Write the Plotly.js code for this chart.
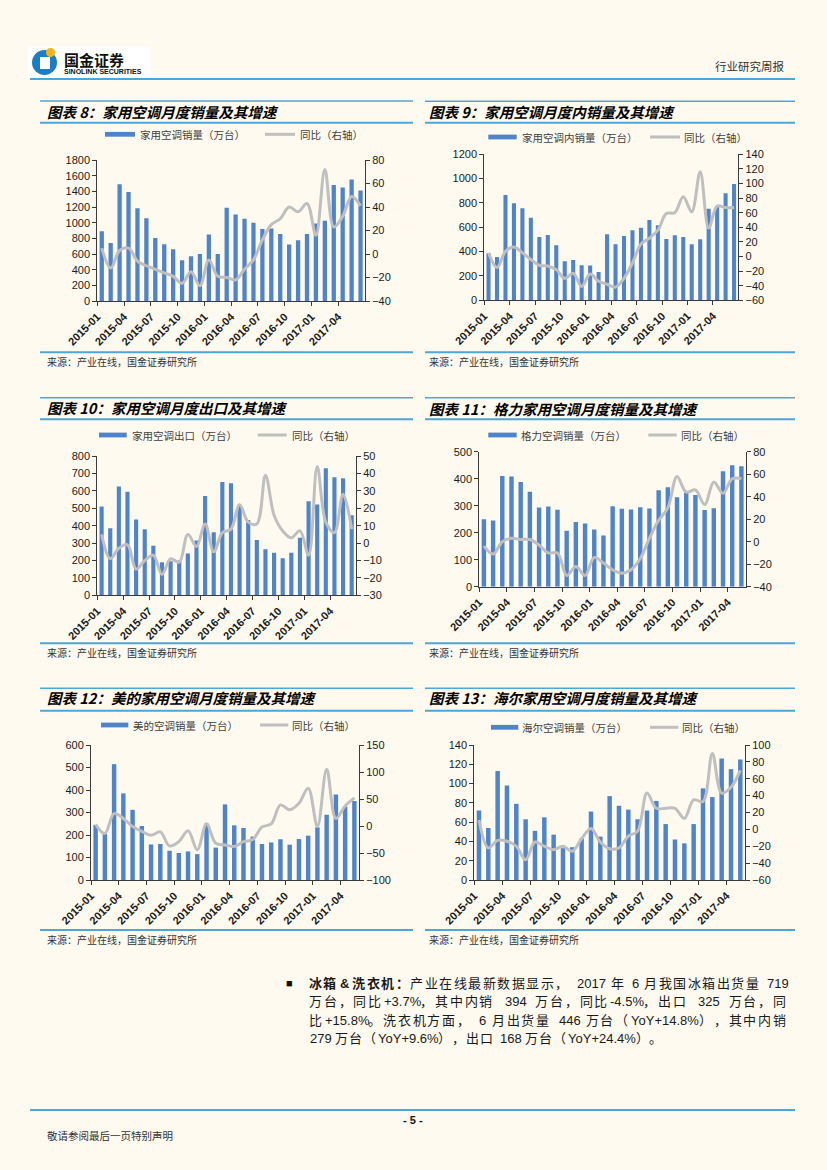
<!DOCTYPE html>
<html>
<head>
<meta charset="utf-8">
<script src="https://cdn.plot.ly/plotly-3.0.1.min.js"></script>
<style>
  html, body { margin: 0; padding: 0; background: #fefaf0; }
  #page { width: 827px; height: 1170px; }
</style>
</head>
<body>
<div id="page"></div>
<script>
// ---------------- DATA ----------------
const months30 = ['2015-01','2015-02','2015-03','2015-04','2015-05','2015-06','2015-07','2015-08','2015-09','2015-10','2015-11','2015-12',
                  '2016-01','2016-02','2016-03','2016-04','2016-05','2016-06','2016-07','2016-08','2016-09','2016-10','2016-11','2016-12',
                  '2017-01','2017-02','2017-03','2017-04','2017-05','2017-06'];
const months29 = ['2015-01','2015-02','2015-03','2015-04','2015-05','2015-06','2015-07','2015-08','2015-09','2015-10','2015-11','2015-12',
                  '2016-01','2016-02','2016-03','2016-04','2016-05','2016-06','2016-07','2016-08','2016-09','2016-10','2016-11','2016-12',
                  '2017-01','2017-02','2017-03','2017-04','2017-05'];

// 图表 8
const acSales    = [890, 740, 1490, 1390, 1185, 1055, 805, 725, 660, 520, 570, 600, 850, 600, 1190, 1105, 1050, 1000, 920, 925, 855, 720, 775, 855, 990, 1025, 1480, 1450, 1550, 1410];
const acSalesYoY = [5, -12, 3, 5, -6, -10, -13, -16, -19, -25, -15, -27, -5, -19, -20, -22, -13, -5, 12, 25, 30, 40, 36, 43, 16, 72, 23, 32, 49, 41];
// 图表 9
const acDomestic    = [386, 356, 866, 797, 756, 679, 520, 537, 452, 320, 331, 288, 285, 233, 542, 460, 529, 575, 597, 660, 616, 504, 534, 520, 460, 501, 753, 770, 879, 956];
const acDomesticYoY = [5, -15, 7, 13, 5, -4, -12, -13, -18, -30, -23, -41, -24, -34, -38, -42, -30, -9, 17, 25, 36, 59, 60, 82, 61, 116, 39, 69, 67, 67];
// 图表 10
const acExport    = [510, 385, 625, 595, 435, 380, 285, 190, 195, 200, 240, 315, 570, 362, 650, 643, 520, 432, 318, 265, 245, 213, 245, 330, 540, 522, 730, 678, 672, 460];
const acExportYoY = [5, -9, -3, -1, -15, -10, -7, -18, -9, -11, 5, -2, 11, -5, 6, 8, 22, 12, 11, 39, 16, 7, 3, 7, -7, 44, 12, 6, 28, 8];
// 图表 11
const greeSales = [250, 245, 410, 408, 388, 352, 293, 297, 285, 207, 240, 234, 212, 190, 298, 289, 286, 294, 290, 357, 368, 331, 348, 340, 284, 291, 428, 450, 446];
const greeYoY   = [-4, -11, 0, 3, 2, 2, -3, -10, -10, -30, -22, -30, -14, -19, -25, -28, -25, -15, 3, 19, 30, 58, 44, 46, 33, 53, 43, 56, 56];
// 图表 12
const mideaSales = [245, 205, 515, 385, 312, 240, 158, 160, 130, 120, 127, 115, 250, 144, 336, 243, 231, 193, 160, 167, 181, 157, 182, 197, 234, 290, 380, 326, 351];
const mideaYoY   = [3, -14, 23, 14, -1, -10, -17, -11, -37, -29, -9, -44, 4, -32, -35, -38, -29, -25, -2, 4, 39, 30, 42, 70, -1, 105, 14, 37, 52];
// 图表 13
const haierSales = [72, 54, 113, 98, 79, 63, 51, 65, 47, 33, 34, 43, 71, 45, 87, 77, 73, 63, 72, 82, 58, 42, 38, 58, 95, 86, 126, 115, 125];
const haierYoY   = [11, -22, -13, -14, -20, -36, -15, -20, -24, -20, -26, -11, 1, -15, -23, -22, -8, -2, 43, 25, 25, 25, 13, 35, 33, 90, 43, 50, 70];

const chartTitles = ['图表 8：家用空调月度销量及其增速', '图表 9：家用空调月度内销量及其增速', '图表 10：家用空调月度出口及其增速',
                     '图表 11：格力家用空调月度销量及其增速', '图表 12：美的家用空调月度销量及其增速', '图表 13：海尔家用空调月度销量及其增速'];
const barNames = ['家用空调销量（万台）', '家用空调内销量（万台）', '家用空调出口（万台）', '格力空调销量（万台）', '美的空调销量（万台）', '海尔空调销量（万台）'];
const lineName = '同比（右轴）';
const sourceText = '来源：产业在线，国金证券研究所';

// ---------------- CONFIG ----------------
const W = 827, H = 1170;
const BAR = '#4f84ca', LINE = '#bfbfbf', RULE = '#4ea6d6', AXIS = '#3a3a3a';
const charts = [
  {m: months30, bars: acSales,    yoy: acSalesYoY,    yL: [0, 1800, 200], yR: [-40, 80, 20]},
  {m: months30, bars: acDomestic, yoy: acDomesticYoY, yL: [0, 1200, 200], yR: [-60, 140, 20]},
  {m: months30, bars: acExport,   yoy: acExportYoY,   yL: [0, 800, 100],  yR: [-30, 50, 10]},
  {m: months29, bars: greeSales,  yoy: greeYoY,       yL: [0, 500, 100],  yR: [-40, 80, 20]},
  {m: months29, bars: mideaSales, yoy: mideaYoY,      yL: [0, 600, 100],  yR: [-100, 150, 50]},
  {m: months29, bars: haierSales, yoy: haierYoY,      yL: [0, 140, 20],   yR: [-60, 100, 20]}
];
const pos = [
  {L: 97.3,  R: 365,   T: 160,   B: 301,   cx: 45,    lx0: 40,  lx1: 413, tY: 111,   r0: 101,   r1: 122.7, r2: 352.3, sY: 361,
   leg: {y: 134.3, rect: [105, 135],     t1: 137.5, ln: [265, 295],     t2: 297.5}},
  {L: 484.3, R: 738.3, T: 154.3, B: 300.3, cx: 426.7, lx0: 425, lx1: 795, tY: 111,   r0: 101.3, r1: 122.7, r2: 352.3, sY: 361.5,
   leg: {y: 137,   rect: [488.3, 516.7], t1: 519.5, ln: [650, 680],     t2: 682}},
  {L: 97.3,  R: 356,   T: 456,   B: 595.3, cx: 45,    lx0: 40,  lx1: 413, tY: 407.5, r0: 397.7, r1: 419.3, r2: 643.3, sY: 652.7,
   leg: {y: 435,   rect: [99, 126.7],    t1: 129.5, ln: [257.7, 286.7], t2: 289.5}},
  {L: 479.3, R: 746,   T: 451.7, B: 586.7, cx: 426.7, lx0: 425, lx1: 795, tY: 408,   r0: 397.7, r1: 419.3, r2: 643.3, sY: 652.7,
   leg: {y: 435,   rect: [488.3, 516.7], t1: 518.5, ln: [648.3, 676.7], t2: 678.5}},
  {L: 91,    R: 359,   T: 745,   B: 880,   cx: 45,    lx0: 40,  lx1: 413, tY: 697,   r0: 688.3, r1: 710.7, r2: 930,   sY: 939,
   leg: {y: 725,   rect: [101, 128.3],   t1: 131,   ln: [260, 288.3],   t2: 290}},
  {L: 474.3, R: 745,   T: 745,   B: 880,   cx: 426.7, lx0: 425, lx1: 795, tY: 697.5, r0: 688.3, r1: 710.7, r2: 930,   sY: 939,
   leg: {y: 727.3, rect: [491, 518.3],   t1: 520,   ln: [650, 678.3],   t2: 680}}
];

const px = x => x / W;
const py = y => 1 - y / H;
const CJK = 'Noto Sans CJK SC, sans-serif';
const LAT = 'Liberation Sans, Arial, Noto Sans CJK SC, sans-serif';

const traces = [];
const layout = {
  width: W, height: H,
  margin: {l: 0, r: 0, t: 0, b: 0},
  paper_bgcolor: '#fefaf0',
  plot_bgcolor: 'rgba(0,0,0,0)',
  showlegend: false,
  annotations: [],
  shapes: []
};

function hline(x0, x1, y, color, w) {
  layout.shapes.push({type: 'line', xref: 'paper', yref: 'paper', x0: px(x0), x1: px(x1), y0: py(y), y1: py(y),
                      line: {color: color, width: w}});
}
function text(t, x, y, opts) {
  const o = opts || {};
  layout.annotations.push({
    text: t, xref: 'paper', yref: 'paper', x: px(x), y: py(y), showarrow: false,
    xanchor: o.xa || 'left', yanchor: 'middle',
    font: Object.assign({family: CJK, size: 11, color: '#222'}, o.font || {})
  });
}

charts.forEach((c, k) => {
  const p = pos[k];
  const n = k + 1;
  const xs = n === 1 ? '' : String(n);
  const L = 2 * n - 1, R = 2 * n;
  const ls = L === 1 ? '' : String(L);
  const idx = c.m.map((_, i) => i);
  const tv = [], tt = [];
  for (let i = 0; i < c.m.length; i += 3) { tv.push(i - 0.5); tt.push(c.m[i]); }

  traces.push({type: 'bar', x: idx, y: c.bars, xaxis: 'x' + xs, yaxis: 'y' + ls,
               marker: {color: BAR, line: {width: 0}}, width: 0.48, name: barNames[k], hoverinfo: 'skip'});
  traces.push({type: 'scatter', mode: 'lines', x: idx, y: c.yoy, xaxis: 'x' + xs, yaxis: 'y' + R,
               line: {color: LINE, width: 3, shape: 'spline', smoothing: 1}, name: lineName, hoverinfo: 'skip'});

  const tickfont = {family: LAT, size: 11, color: '#1a1a1a'};
  layout['xaxis' + xs] = {
    domain: [px(p.L), px(p.R)], anchor: 'y' + ls, range: [-0.5, c.m.length - 0.5],
    tickmode: 'array', tickvals: tv, ticktext: tt, tickangle: -45,
    ticks: 'outside', ticklen: 4, tickcolor: AXIS, showline: true, linecolor: AXIS, linewidth: 1,
    showgrid: false, zeroline: false, fixedrange: true,
    tickfont: {family: LAT, size: 11, color: '#1a1a1a', weight: 'bold'}
  };
  layout['yaxis' + ls] = {
    domain: [py(p.B), py(p.T)], anchor: 'x' + xs, range: [c.yL[0], c.yL[1]], dtick: c.yL[2], tick0: c.yL[0],
    ticks: 'outside', ticklen: 4, tickcolor: AXIS, showline: true, linecolor: AXIS, linewidth: 1,
    showgrid: false, zeroline: false, fixedrange: true, tickfont: tickfont
  };
  layout['yaxis' + R] = {
    overlaying: 'y' + ls, side: 'right', anchor: 'x' + xs, range: [c.yR[0], c.yR[1]], dtick: c.yR[2], tick0: c.yR[0],
    ticks: 'outside', ticklen: 4, tickcolor: AXIS, showline: true, linecolor: AXIS, linewidth: 1,
    showgrid: false, zeroline: false, fixedrange: true, tickfont: tickfont
  };

  hline(p.lx0, p.lx1, p.r0, RULE, 1.6);
  hline(p.lx0, p.lx1, p.r1, RULE, 2);
  hline(p.lx0, p.lx1, p.r2, RULE, 2);
  text(chartTitles[k], p.cx, p.tY, {font: {size: 14.5, color: '#000', weight: 'bold', style: 'italic'}});
  layout.shapes.push({type: 'rect', xref: 'paper', yref: 'paper', x0: px(p.leg.rect[0]), x1: px(p.leg.rect[1]),
                      y0: py(p.leg.y + 2.4), y1: py(p.leg.y - 2.4), fillcolor: BAR, line: {width: 0}});
  text(barNames[k], p.leg.t1, p.leg.y, {font: {size: 10.5, color: '#404040'}});
  hline(p.leg.ln[0], p.leg.ln[1], p.leg.y, LINE, 3);
  text(lineName, p.leg.t2, p.leg.y, {font: {size: 10.5, color: '#404040'}});
  text(sourceText, p.cx, p.sY, {font: {size: 10, color: '#333'}});
});

// ---------------- HEADER / FOOTER ----------------
layout.shapes.push({type: 'rect', xref: 'paper', yref: 'paper', x0: px(28), x1: px(151), y0: py(46), y1: py(78),
                    fillcolor: '#ffffff', line: {width: 0}});
layout.shapes.push({type: 'circle', xref: 'paper', yref: 'paper', x0: px(32), x1: px(57), y0: py(50), y1: py(75),
                    fillcolor: '#1e7cc2', line: {width: 0}});
layout.shapes.push({type: 'rect', xref: 'paper', yref: 'paper', x0: px(40), x1: px(50), y0: py(57), y1: py(69),
                    fillcolor: '#ffffff', line: {width: 0}});
layout.shapes.push({type: 'circle', xref: 'paper', yref: 'paper', x0: px(46), x1: px(55), y0: py(48), y1: py(57),
                    fillcolor: '#f5b21c', line: {width: 0}});
text('国金证券', 62, 59, {font: {size: 15, color: '#111', weight: 'bold'}});
text('SINOLINK SECURITIES', 62, 71.5, {font: {family: LAT, size: 7, color: '#111', weight: 'bold'}});
text('行业研究周报', 786, 66, {xa: 'right', font: {size: 11.5, color: '#333'}});
hline(30, 795, 79, RULE, 2);

hline(30, 795, 1110, RULE, 2);
text('- 5 -', 413, 1120, {xa: 'center', font: {family: LAT, size: 11, color: '#111', weight: 'bold'}});
text('敬请参阅最后一页特别声明', 45, 1135, {font: {size: 10.5, color: '#333'}});

// ---------------- PARAGRAPH (justified by hand) ----------------
const AW = {'0':0.556,'1':0.556,'2':0.556,'3':0.556,'4':0.556,'5':0.556,'6':0.556,'7':0.556,'8':0.556,'9':0.556,
            '+':0.584,'-':0.333,'.':0.278,'%':0.889,'Y':0.667,'o':0.556};
const FS = 13;
function latW(t) { let w = 0; for (const ch of t) w += (AW[ch] || 0.556) * FS; return w; }
// tokens: [text, kind('c' cjk | 'l' latin), gapBefore, bold]
function para(y, tokens, x0, x1, s, fixedGap) {
  let total = 0, gaps = 0;
  tokens.forEach(([t, kind, gap]) => {
    total += kind === 'c' ? Array.from(t).length * s : latW(t);
    if (gap) gaps++;
  });
  const g = (x1 != null && gaps) ? (x1 - x0 - total) / gaps : fixedGap;
  let x = x0;
  tokens.forEach(([t, kind, gap, bold]) => {
    if (gap) x += g;
    const f = {family: LAT, size: FS, color: '#1a1a1a'};
    if (bold) f.weight = 'bold';
    if (kind === 'c') {
      Array.from(t).forEach(ch => { text(ch, x + s / 2, y, {xa: 'center', font: f}); x += s; });
    } else {
      text(t, x, y, {font: f});
      x += latW(t);
    }
  });
}
text('■', 289, 983, {xa: 'center', font: {family: LAT, size: 11, color: '#111'}});
para(983, [['冰箱&洗衣机：', 'c', false, true], ['产业在线最新数据显示，', 'c'], ['2017', 'l', true], ['年', 'c', true],
           ['6', 'l', true], ['月我国冰箱出货量', 'c', true], ['719', 'l', true]], 308, 787, 14.5);
para(1001.5, [['万台，同比', 'c'], ['+3.7%', 'l'], ['，其中内销', 'c'], ['394', 'l', true], ['万台，同比', 'c', true],
              ['-4.5%', 'l'], ['，出口', 'c'], ['325', 'l', true], ['万台，同', 'c', true]], 308, 787, 14.8);
para(1020, [['比', 'c'], ['+15.8%', 'l'], ['。洗衣机方面，', 'c'], ['6', 'l', true], ['月出货量', 'c', true], ['446', 'l', true],
            ['万台（', 'c', true], ['YoY+14.8%', 'l'], ['），其中内销', 'c']], 308, 787, 14.8);
para(1038.5, [['279', 'l'], ['万台（', 'c', true], ['YoY+9.6%', 'l'], ['），出口', 'c'], ['168', 'l', true], ['万台（', 'c', true],
              ['YoY+24.4%', 'l'], ['）。', 'c']], 308, null, 13.8, 5);

Plotly.newPlot('page', traces, layout, {staticPlot: true, displayModeBar: false});
</script>
</body>
</html>
